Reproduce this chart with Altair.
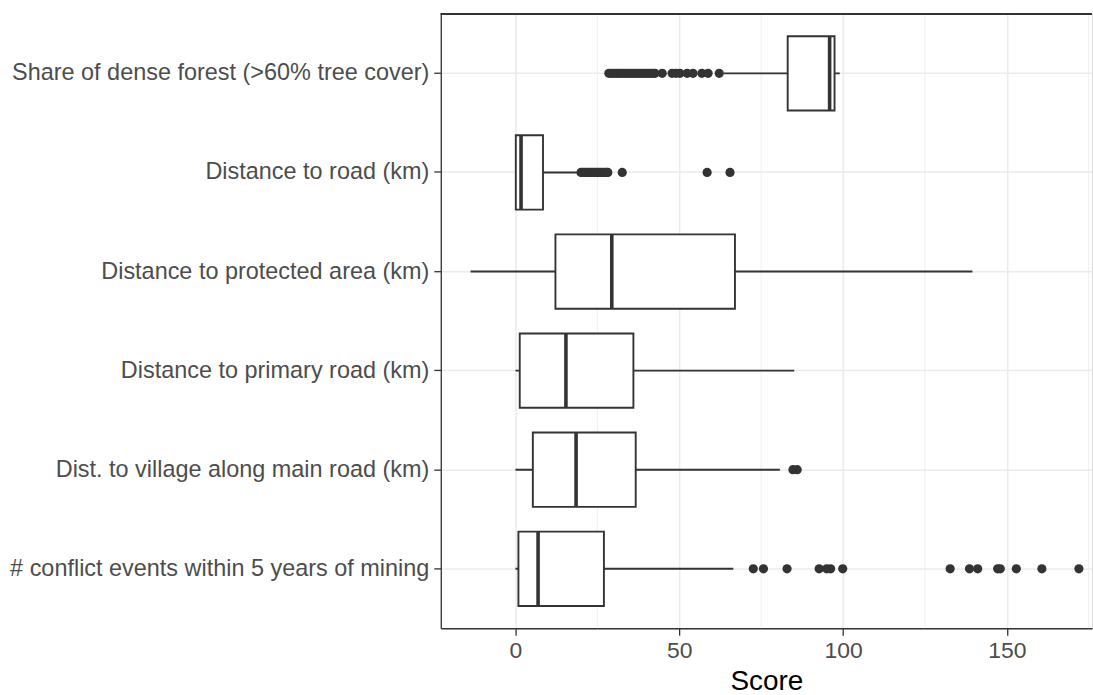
import altair as alt
import pandas as pd

categories = [
    "Share of dense forest (>60% tree cover)",
    "Distance to road (km)",
    "Distance to protected area (km)",
    "Distance to primary road (km)",
    "Dist. to village along main road (km)",
    "# conflict events within 5 years of mining",
]
whisker_low = [63.5, 0.0, -13.7, 0.0, 0.0, 0.0]
q1 = [83.1, 0.1, 12.2, 1.3, 5.3, 0.9]
median = [95.9, 1.7, 29.4, 15.4, 18.5, 6.9]
q3 = [97.4, 8.4, 67.0, 36.0, 36.7, 27.0]
whisker_high = [99.0, 19.0, 139.5, 85.1, 80.7, 66.5]

outliers_forest = [28.5, 29.3, 30.0, 30.8, 31.5, 32.2, 33.0, 33.8, 34.5, 35.3,
                   36.0, 36.8, 37.5, 38.3, 39.0, 39.8, 40.5, 41.3, 42.0, 42.6,
                   44.8, 47.8, 49.0, 50.2, 52.4, 54.2, 56.9, 58.8, 62.2]
outliers_road = [20.0, 20.6, 21.2, 21.8, 22.4, 23.0, 23.6, 24.2, 24.8, 25.4,
                 26.0, 26.6, 27.2, 27.8, 28.2, 32.6, 58.5, 65.5]
outliers_village = [84.7, 86.0]
outliers_conflict = [72.6, 75.7, 82.9, 92.7, 95.0, 96.2, 99.9, 132.7, 138.6,
                     141.1, 147.2, 148.0, 152.9, 160.7, 172.0]

major_ticks = [0, 50, 100, 150]
minor_ticks = [25, 75, 125, 175]

stats = pd.DataFrame({
    "cat": categories, "lw": whisker_low, "q1": q1, "med": median,
    "q3": q3, "uw": whisker_high,
})
out_rows = (
    [(categories[0], v) for v in outliers_forest]
    + [(categories[1], v) for v in outliers_road]
    + [(categories[4], v) for v in outliers_village]
    + [(categories[5], v) for v in outliers_conflict]
)
outs = pd.DataFrame(out_rows, columns=["cat", "value"])
minor_df = pd.DataFrame({"v": minor_ticks})

W, H = 653, 616
DOMAIN = [-22.8, 176.0]
DARK = "#333333"

xscale = alt.Scale(domain=DOMAIN, nice=False, zero=False)
yscale = alt.Scale(domain=categories, paddingInner=0.25, paddingOuter=0.225)

yenc = alt.Y(
    "cat:N", scale=yscale, title=None, sort=categories,
    axis=alt.Axis(
        labelFontSize=23.5, labelColor="#4D4D4D", labelPadding=5,
        tickSize=7, tickColor=DARK, tickWidth=1.3, bandPosition=0.5,
        grid=True, gridColor="#EBEBEB", gridWidth=1.5,
        domain=True, domainColor=DARK, domainWidth=1.3, labelLimit=600,
    ),
)
xaxis = alt.Axis(
    values=major_ticks, labelFontSize=23, labelColor="#4D4D4D", labelPadding=4,
    tickSize=7, tickColor=DARK, tickWidth=1.3,
    grid=True, gridColor="#EBEBEB", gridWidth=1.5,
    domain=True, domainColor=DARK, domainWidth=1.3,
    title="Score", titleFontSize=28, titleColor="black", titleFontWeight="normal",
    titlePadding=5,
)

minor = alt.Chart(minor_df).mark_rule(color="#EBEBEB", strokeWidth=0.8).encode(
    x=alt.X("v:Q", scale=xscale, axis=xaxis),
)
whisk = alt.Chart(stats).mark_rule(color=DARK, strokeWidth=1.9).encode(
    x=alt.X("lw:Q", scale=xscale, axis=xaxis), x2="uw:Q", y=yenc,
)
box = alt.Chart(stats).mark_bar(fill="white", stroke=DARK, strokeWidth=1.9).encode(
    x=alt.X("q1:Q", scale=xscale, axis=xaxis), x2="q3:Q", y=yenc,
)
med = alt.Chart(stats).mark_tick(color=DARK, opacity=1, size=74.5, thickness=3.6).encode(
    x=alt.X("med:Q", scale=xscale, axis=xaxis), y=yenc,
)
pts = alt.Chart(outs).mark_circle(color=DARK, opacity=1, size=85).encode(
    x=alt.X("value:Q", scale=xscale, axis=xaxis), y=yenc,
)
top = alt.Chart(stats).mark_rule(color=DARK, strokeWidth=1.3).encode(
    x=alt.value(0), x2=alt.value(W), y=alt.value(0),
)

chart = alt.layer(minor, whisk, box, med, pts, top).properties(
    width=W, height=H,
    padding={"left": 9, "top": 12, "right": 0, "bottom": 0},
).configure_view(stroke=None).configure(
    font="Liberation Sans", background="white",
)

chart.save("out.html", embed_options={"renderer": "svg", "actions": False})
